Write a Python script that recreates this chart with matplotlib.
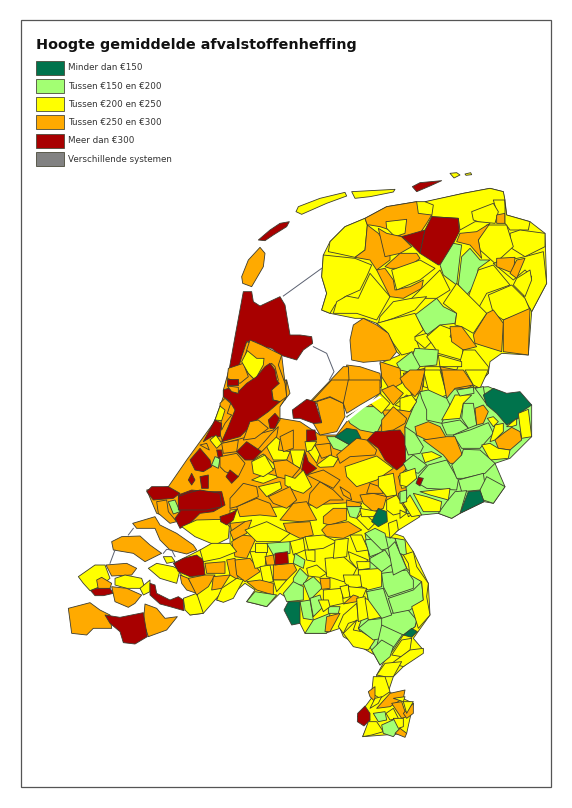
import matplotlib
matplotlib.use("Agg")
import matplotlib.pyplot as plt
from matplotlib.patches import Polygon, Rectangle

TITLE = "Hoogte gemiddelde afvalstoffenheffing"
legend_labels = ["Minder dan €150", "Tussen €150 en €200", "Tussen €200 en €250",
                 "Tussen €250 en €300", "Meer dan €300", "Verschillende systemen"]
colors = {"D": "#00734C", "L": "#A3FF73", "Y": "#FFFF00", "O": "#FFAA00", "R": "#A80000", "G": "#828282", "W": "#FFFFFF"}
legend_keys = ["D", "L", "Y", "O", "R", "G"]

# Municipal outlines, as (class, x, y, x, y, ...) in map sheets
base_mid = [("O", 50,330,115,320,170,240,250,130,290,50,290,0,470,0,480,40,445,85,430,145,450,115,510,125,570,165,620,165,650,125,750,50,760,0,960,0,960,400,900,370,800,410,700,440,500,470,300,440,160,440,140,420,80,400)]
base_south = [("Y", 420,150,510,130,510,30,1000,0,1080,50,1000,100,1030,110,1060,155,1105,250,1110,345,1060,415,1090,450,1030,500,1000,530,985,575,1060,610,1040,700,908,710,930,660,893,650,945,580,950,525,975,480,935,460,850,410,840,385,795,400,735,400,720,370,675,330,690,300,660,280,620,320,560,305,585,270,555,250,490,305,470,300,500,260,430,340,390,345,410,280,360,220,340,190),
              ("L",915,100,1005,115,1040,205,1085,245,1090,300,1065,380,1030,405,1000,450,960,495,935,450,895,385,925,300,920,275,895,210,930,185)]
base_north = [("Y",280,255,300,215,345,170,405,145,470,110,560,95,590,95,700,70,780,55,820,65,830,135,900,155,945,190,950,340,905,425,895,555,815,550,780,575,775,610,740,650,770,660,760,720,450,720,455,610,450,580,510,555,500,545,475,490,440,460,400,445,375,445,300,430,275,420,290,370,275,320)]
base_east = [("L",60,65,265,50,395,105,395,200,330,265,285,280,315,350,280,400,252,395,180,430,155,445,115,430,65,435,20,430,15,170)]
base_nh = [("O",250,330,268,265,320,185,425,225,440,350,420,380,420,420,400,450,250,490,225,420,250,350)]

north = [
("O",38,340,35,320,55,270,90,232,105,250,100,290,65,350),
("R",85,210,120,180,150,160,178,155,170,170,130,195,105,212),
("Y",198,125,205,110,270,85,345,67,350,78,290,100,215,133),
("Y",365,65,420,62,495,58,490,66,420,80,375,85),
("R",547,50,570,38,635,32,600,48,560,65),
("Y",660,10,680,8,690,15,672,24),("Y",705,12,722,8,725,14,708,16),
("Y",300,215,345,170,405,145,412,165,405,240,375,262,320,250,295,245),
("O",405,145,470,110,560,95,565,130,605,135,590,160,570,190,515,200,480,180,450,170,420,165,412,165),
("Y",468,155,530,148,525,190,495,200,470,175),
("O",412,165,445,190,480,240,480,270,440,300,420,270,375,262,405,240),
("O",445,175,470,190,515,200,545,230,510,250,465,260),
("O",465,290,510,250,560,250,570,265,530,295,480,295),
("Y",585,95,700,70,780,55,820,65,825,90,790,90,800,125,775,155,735,155,690,180,685,145,605,140,610,105),
("R",515,200,585,180,570,250,545,225),
("R",605,140,685,145,688,185,640,280,625,285,570,250,585,180),
("Y",725,125,790,100,805,125,795,160,745,155,730,150),
("O",800,135,825,130,825,160,800,160),
("Y",825,90,830,135,900,155,895,180,840,180,825,160),
("Y",840,190,870,180,945,190,945,230,885,260,845,235),
("Y",770,165,830,165,850,230,795,280,750,240,745,210),
("O",690,190,740,185,780,160,745,210,755,265,720,225,680,215),
("L",670,220,695,225,690,260,680,345,640,315,630,285),
("L",695,260,720,235,750,270,780,270,745,295,735,345,710,375,685,345),
("Y",885,260,940,245,950,340,905,425,880,380,905,320,885,300,850,330,790,280),
("O",800,265,855,262,850,310,800,290),("O",860,270,885,265,860,325,840,310),
("Y",790,285,840,345,770,370,745,415,715,380,745,300),
("Y",775,375,845,345,885,385,900,420,820,450,790,430),
("Y",860,325,900,300,905,330,885,380,850,345),
("O",790,420,820,460,815,545,735,520,730,495,770,430),
("O",820,450,900,415,895,555,820,545),
("Y",280,255,375,265,425,285,410,320,390,360,345,380,315,405,300,430,275,420,290,370,275,320),
("Y",420,310,480,380,440,450,410,440,380,430,310,430,320,395,350,378,385,385),
("O",440,300,465,295,490,330,495,360,540,350,580,330,575,355,520,385,480,380),
("Y",485,300,570,270,615,295,570,330,500,360),
("Y",540,390,630,300,660,360,620,385,560,385),
("Y",450,440,490,395,545,385,590,380,555,420,490,445,445,460),
("L",555,435,620,385,640,410,680,430,675,460,630,465,590,495),
("Y",640,400,680,340,770,430,730,490,695,470,675,465,680,430),
("Y",440,460,495,445,555,430,580,480,555,500,570,540,515,555,490,520,470,485),
("O",400,445,440,465,475,490,500,545,480,570,400,577,365,570,360,510,370,465),
("Y",555,500,590,490,605,515,585,535,555,510),
("Y",590,500,630,465,670,480,660,500,700,530,695,570,625,550,605,520),
("O",660,470,695,470,740,530,700,540,665,515),
("Y",700,540,735,540,775,590,775,610,730,650,680,600,690,575),
("L",555,535,625,540,620,585,570,590,545,565),
("L",500,580,545,545,570,590,555,610,510,600),
("Y",625,555,695,575,695,590,630,590),
("O",450,575,510,595,515,640,480,660,455,620),
("O",520,610,585,595,575,670,545,675),
("Y",585,590,630,590,650,680,600,655,580,650),
("O",630,590,680,600,730,645,670,680),
("O",350,585,390,590,450,610,455,650,400,690,350,705),
("O",240,695,340,590,355,590,360,690,345,715,300,700,270,705),
]

mid_detail = [
("O",420,30,470,0,465,60,440,65),
("O",560,65,600,52,640,70,645,110,620,155,570,165,550,130,575,128),
("O",540,70,605,0,655,0,660,30,640,70,600,50),
("O",655,0,750,0,750,40,690,75,650,100,640,70),
("R",487,90,530,58,555,65,575,128,550,130,510,115,490,115),
("L",650,110,700,80,750,80,765,110,740,160,690,150,660,130),
("L",590,170,615,170,660,195,640,215,610,205),
("D",615,170,650,145,680,150,693,175,660,195),
("O",620,225,680,175,710,180,740,210,735,225,660,230,630,250),
("R",712,180,735,155,810,150,830,180,838,240,800,270,765,240,745,205),
("L",830,130,860,190,880,230,840,245,825,175),
("Y",645,260,740,228,790,265,740,300,680,320,650,290),
("L",890,240,960,230,960,320,890,325,870,280),
("L",840,250,880,230,890,250,850,280),
("O",855,140,930,125,945,170,880,170),
("O",880,180,960,170,960,235,900,215),
("Y",880,225,930,225,900,250),
("O",755,120,790,80,830,115,825,130,790,150,755,155),
("Y",840,140,855,60,885,60,895,130,860,135),
("L",875,50,925,35,960,70,960,130,905,120,895,70),
("Y",795,75,830,45,855,60,850,95),
("Y",720,70,750,40,780,70,755,100),
("O",755,30,790,15,820,40,790,75),
("R",860,295,875,290,875,315,860,320),
("O",80,365,110,360,115,395,140,425,120,430,85,400),
("R",145,345,185,330,235,335,275,335,285,375,250,395,210,400,180,430,150,445,135,415,150,395),
("L",115,365,135,360,150,395,130,402),
("Y",155,440,200,420,280,418,298,440,295,475,255,495,195,470),
("Y",370,240,400,222,440,260,410,280,375,270),
("Y",365,300,410,280,450,290,400,310),
("Y",385,320,450,305,455,325,410,350),
("Y",410,200,430,165,450,180,445,210,480,215,470,240,430,240),
("O",450,170,490,150,490,205,460,215),
("Y",480,210,525,210,510,265,490,255),
("R",525,215,535,245,560,265,530,285,515,270),
("Y",535,215,555,195,570,220,560,250),
("O",555,195,600,190,605,225,575,235),
("Y",560,255,600,225,625,235,610,260,570,262),
("O",430,245,470,240,510,265,480,300,440,290),
("Y",465,285,495,295,520,270,545,320,520,340,490,330,465,315),
("Y",525,185,560,185,545,210,530,215),
("R",530,150,555,150,560,180,530,185),
("O",415,350,480,320,500,360,470,385,430,370),
("O",320,380,380,355,420,370,440,410,390,405,330,410),
("O",300,355,340,310,380,320,385,350,320,380,300,385),
("O",450,420,490,370,530,365,560,420,510,425),
("O",540,340,570,305,610,330,640,360,600,360,560,385,535,370),
("O",530,285,580,270,630,300,610,325,570,305),
("O",690,345,730,340,770,350,760,385,730,395,700,370),
("O",720,310,750,320,760,340,710,340),
("O",630,320,660,340,665,360,640,345),
("O",650,360,695,370,690,380,650,380),
("O",580,410,610,385,650,385,650,420,600,435,580,430),
("O",590,435,655,425,695,450,640,475,590,470,575,450),
("O",460,430,540,425,550,465,510,475,470,455),
("O",300,430,345,425,345,460,310,480),
("L",650,380,695,380,680,415,660,410),
("Y",680,415,700,395,735,430,715,450),
("Y",690,385,745,395,730,410,695,410),
("D",725,425,745,385,770,395,772,425,745,440),
("Y",745,290,790,280,800,345,770,350,745,320),
("Y",805,290,830,265,860,290,845,320,815,325),
("L",805,340,830,330,835,365,810,370),
("Y",770,360,800,345,830,395,790,405,770,390),
("Y",850,335,900,330,960,345,930,395,880,370),
("Y",825,370,860,350,870,390,835,410),
("Y",775,430,800,420,805,450,780,475),
("L",930,360,960,345,960,410,930,395),
("R",270,410,300,400,320,390,310,420,290,435,272,425),
]

east = [
("Y",70,0,120,0,140,75,115,85,85,60),("O",125,0,190,0,220,45,165,55,140,85),
("Y",195,0,265,0,240,55,220,45),("O",0,25,30,0,75,0,60,60,45,80,15,50),
("Y",0,85,35,75,50,95,30,125,0,120),
("L",60,65,85,60,140,85,150,105,125,160,80,150,80,120,65,85),
("Y",150,105,165,75,215,75,190,100,180,145,125,150),
("L",170,60,220,52,222,70,180,78),
("L",225,55,250,50,258,100,240,75),
("D",250,75,280,55,320,70,360,65,395,105,365,125,355,145,320,165,290,130,260,105),
("L",190,100,220,100,230,165,205,175,185,145),
("O",225,115,250,105,265,125,250,160,230,165),
("L",125,160,180,150,205,175,160,195,140,195),
("O",45,170,85,155,120,170,140,205,80,210,50,195),
("L",160,195,210,180,265,158,280,190,240,235,185,235),
("Y",262,145,280,140,295,155,280,170),
("Y",270,215,285,165,310,160,310,185,285,210),
("Y",320,170,350,145,350,165,335,170),
("Y",355,130,385,118,395,200,365,205,360,170),
("O",285,210,310,190,335,172,360,185,365,210,330,240,295,235),
("Y",245,225,270,220,295,235,330,240,325,265,270,270),
("L",15,170,45,190,70,230,60,250,25,255,15,225),
("O",70,210,140,200,165,200,185,250,180,280,150,280,130,255),
("Y",65,250,95,245,125,260,75,278),
("L",10,280,40,255,80,285,55,310,20,300),
("L",55,320,85,285,140,270,175,330,170,360,80,355,55,340),
("L",155,285,185,255,190,238,240,240,285,280,255,310,190,325,170,325),
("L",175,330,250,310,255,345,240,360,185,365),
("L",240,360,260,320,315,350,280,400,250,390),
("D",180,430,205,365,240,362,252,395),
("L",115,430,140,395,165,365,200,362,180,430,155,445),
("Y",60,365,150,355,145,390,90,375),
("Y",40,370,80,380,125,395,120,425,70,425),
("Y",0,310,45,295,50,325,20,350,0,345),
("R",48,340,55,322,70,325,60,348),
("Y",10,400,30,375,65,435,35,440),
("Y",0,420,20,430,0,445),
("L",0,365,20,360,20,395,0,400),
]

nh_detail = [
("R",310,35,335,35,340,65,360,78,420,50,435,75,450,165,480,165,515,170,518,190,490,210,470,240,420,225,395,205,365,200,345,185,320,185,305,230,295,265,268,265,285,170),
("O",330,180,365,195,425,225,415,255,435,310,440,350,420,365,400,360,395,330,415,300,405,260,395,250,345,300,325,280,310,250,320,210),
("O",265,265,310,250,325,290,300,310,262,295),
("Y",322,212,350,235,372,235,370,255,345,300,325,280,305,245),
("R",390,250,405,270,410,300,418,310,395,330,398,360,420,365,385,395,350,420,330,440,300,470,245,485,265,440,285,390,270,365,250,350,250,330,265,325,290,340,320,310,350,290,375,260),
("R",262,298,295,298,295,315,262,315),
("O",262,318,295,322,295,340,275,335),
("O",240,370,255,355,272,370,262,400,275,405,255,430,245,450),
("Y",225,420,240,378,255,390,245,422),
("R",385,420,405,400,418,415,405,445,390,445),
("R",190,485,225,420,245,430,240,470,215,470),
("Y",210,480,228,465,245,490,230,505),
("O",180,495,200,490,208,510),
("O",330,425,355,420,385,445,345,475,310,480),
("O",335,530,395,460,415,440,410,470,365,515),
("O",245,490,295,480,290,515,250,520),
("R",150,540,180,505,210,540,215,560,190,575,165,570),
("L",215,555,225,530,240,535,235,565),
("R",230,510,245,510,248,530,235,535),
("R",290,515,320,485,365,515,340,540,315,540),
("O",240,530,290,520,315,550,295,590,255,575,240,560),
("R",258,590,270,570,295,590,275,610),
("R",180,590,205,585,205,625,185,625),
("R",145,600,155,580,165,600,155,615),
("R",20,635,35,620,85,620,120,640,100,655,40,660),
("R",115,650,140,640,180,630,240,640,245,680,200,690,115,690),
("Y",335,545,375,525,400,570,370,590,340,580),
]

south = [
("O",218,70,285,50,300,75,350,100,400,135,410,150,380,162,330,150,300,120,285,85,230,85),
("O",155,125,185,110,240,108,270,135,305,160,255,185,220,160,160,150),
("Y",55,230,105,195,135,195,150,235,120,260,90,272,70,250),
("O",138,195,200,190,230,205,215,225,155,228),
("O",110,240,125,232,155,250,150,265,115,268),
("R",92,272,110,265,150,265,160,280,130,287,105,287),
("Y",165,235,195,225,245,235,255,265,200,265,165,255),
("O",155,260,200,265,245,285,225,310,205,322,165,305),
("Y",240,265,270,240,270,275,250,285),
("Y",265,205,290,190,340,200,360,210,350,250,300,235),
("Y",310,170,335,170,345,185,320,190),
("R",342,190,370,175,410,165,430,180,435,225,390,230,355,215),
("R",270,250,285,255,290,280,330,300,355,290,370,300,372,332,330,320,300,312,270,285),
("Y",370,295,410,280,430,340,390,345,375,330),
("O",25,325,90,308,120,330,150,345,155,385,100,385,80,405,35,400),
("O",255,312,290,325,315,355,352,350,320,390,265,410,250,365),
("R",135,345,180,352,250,338,262,410,225,432,190,428,180,395,150,370),
("O",360,225,385,235,410,280,380,270,365,250),
("O",385,235,435,225,465,225,445,260,410,285),
("O",435,190,495,185,495,220,440,220),
("O",460,230,510,225,485,265,455,270),
("O",500,180,525,175,535,240,510,225),
("O",525,180,570,175,600,215,555,245,530,225),
("O",545,105,590,110,560,175,525,170,515,125),
("O",510,95,555,65,575,60,560,100,520,120),
("Y",420,150,455,130,510,130,530,155,480,175,430,185),
("Y",555,90,620,65,690,100,660,125,590,125),
("Y",570,155,620,155,615,200,585,205),
("Y",600,200,630,195,640,245,610,250),
("Y",585,130,620,130,620,155,585,155),
("L",620,130,690,125,690,160,640,165),
("O",615,170,640,165,645,195,620,195),
("O",640,195,700,190,710,210,680,240,640,240),
("R",645,160,683,155,685,190,645,195),
("Y",690,125,730,115,735,150,700,165),
("O",560,245,600,240,640,250,640,285,590,270),
("Y",640,240,680,240,650,275),
("Y",470,300,485,265,530,235,550,240,520,295,490,307),
("L",560,305,585,275,650,285,620,320,590,312),
("L",705,160,735,180,730,205,700,190),
("L",700,235,720,205,745,230,730,255,700,255),
("L",670,280,700,245,730,260,730,300,680,305),
("L",730,250,760,230,790,260,750,300),
("L",720,305,750,300,760,360,730,355),
("L",735,400,760,360,810,340,800,400),
("L",750,295,780,285,790,320,760,350),
("D",672,330,685,305,720,305,720,370,695,375),
("L",805,320,840,320,835,340,805,340),
("O",800,350,840,340,810,395,795,395),
("O",780,235,810,235,810,265,785,268),
("Y",735,150,765,150,765,185,740,180),
("Y",735,110,790,105,830,125,790,145,745,150),
("Y",795,175,850,170,890,205,880,225,850,245,820,235,800,230),
("Y",740,205,770,195,800,220,780,232,745,228),
("Y",825,120,865,115,860,170,820,175),
("Y",870,105,905,105,925,150,890,155),
("Y",865,155,925,180,890,205,870,180),
("Y",890,185,930,185,930,205,895,210),
("Y",895,210,965,205,965,260,925,270,905,260,895,235),
("Y",850,225,900,225,905,260,875,265,855,250),
("Y",790,270,845,265,850,310,805,320,790,300),
("Y",840,260,865,255,870,290,850,295),
("Y",865,260,920,265,905,300,870,290),
("O",850,312,880,285,895,290,890,305),
("Y",775,300,805,300,810,320,790,335),
("Y",835,380,850,345,890,310,895,360,865,370,850,400),
("Y",890,295,915,290,935,350,895,365),
("Y",915,295,940,305,970,350,925,360),
("Y",850,400,890,360,880,390,905,395,945,420,925,450,880,440),
("L",895,385,925,360,970,355,965,415,940,420),
("L",965,375,1030,375,1030,400,995,450,950,440),
("L",965,350,1040,325,1070,360,1065,380,1030,405,965,375),
("L",920,275,970,265,995,345,965,355,925,300),
("L",965,220,1040,210,1060,240,1060,265,985,290,970,260),
("L",985,295,1060,270,1085,245,1090,300,1050,330,1000,340),
("L",915,120,950,115,970,155,930,170),
("L",930,175,975,150,1000,190,965,215,930,185),
("L",985,145,1005,125,1040,205,1000,225),
("L",1005,115,1035,120,1040,170,1020,160),
("L",915,100,945,85,975,100,985,145,965,150),
("Y",1030,165,1060,155,1070,200,1105,250,1100,290,1110,345,1075,385,1055,320,1090,300,1085,245,1050,225,1045,190),
("D",1030,405,1055,385,1072,395,1055,412),
("Y",995,465,1025,420,1055,415,1050,450,1025,470),
("Y",995,490,1050,450,1090,445,1090,460,1030,500),
("Y",950,525,975,490,1025,485,1000,530,975,530),
("Y",940,530,975,530,990,575,960,595,935,580),
("L",935,450,965,420,1000,440,990,470,960,495),
("O",925,575,945,560,945,605,930,590),
("O",950,625,990,580,1035,570,1030,595,990,620),
("Y",945,595,965,590,955,610,930,625),
("Y",1000,595,1035,590,1030,605),
("O",995,610,1025,605,1040,650,1025,655),
("O",1030,640,1060,610,1060,640,1040,655),
("Y",1030,605,1060,605,1040,640),
("R",893,640,915,618,930,640,930,660,912,678,892,665),
("L",940,640,975,635,980,660,955,665),
("Y",978,640,1000,625,1015,655,990,660),
("Y",908,710,925,665,950,665,970,695,935,705),
("L",965,675,1010,655,1020,685,1000,710,970,700),
("O",1005,700,1020,685,1040,700,1035,712),
("Y",1000,655,1030,655,1030,680,1015,685),
]

dike_north = [[160,378,275,295], [250,530,290,550,312,605,298,630]]
dike_south = [[150,190,165,150], [205,105,220,85], [310,160,320,148,335,150,345,170]]
water_mid = [("W",645,118,695,78,748,48,755,52,700,85,652,124)]

fig = plt.figure(figsize=(5.72, 8.08), dpi=100)
ax = fig.add_axes([0, 0, 1, 1])
ax.set_xlim(0, 572)
ax.set_ylim(808, 0)
ax.axis("off")

def sheet(items, ox, oy, edge=True):
    for it in items:
        pts = [(ox + it[i] / 3, oy + it[i + 1] / 3) for i in range(1, len(it), 2)]
        ax.add_patch(Polygon(pts, closed=True, facecolor=colors[it[0]],
                             edgecolor="#3c3c30" if edge else "none", linewidth=0.6, joinstyle="round"))

def lines(items, ox, oy):
    for it in items:
        ax.plot([ox + v / 3 for v in it[0::2]], [oy + v / 3 for v in it[1::2]], color="#5a6070", lw=0.7)

N, M, S, E, H = (230, 170), (130, 380), (60, 500), (400, 370), (140, 280)
sheet(base_mid, *M)
sheet(base_north, *N)
sheet(base_south, *S)
sheet(north, *N)
sheet(mid_detail, *M)
sheet(water_mid, *M, edge=False)
sheet(base_east, *E)
sheet(east, *E)
sheet(base_nh, *H)
sheet(nh_detail, *H)
sheet(south, *S)
lines(dike_north, *N)
lines(dike_south, *S)

ax.add_patch(Rectangle((21, 20), 530, 767, fill=False, edgecolor="#555555", linewidth=0.9))
ax.text(36, 45.5, TITLE, fontsize=10.4, fontweight="bold", family="DejaVu Sans", va="center", color="#111111")
for i, (key, label) in enumerate(zip(legend_keys, legend_labels)):
    y = 60.5 + i * 18.25
    ax.add_patch(Rectangle((36, y), 28, 14, facecolor=colors[key], edgecolor="#4a4a3a", linewidth=0.6))
    ax.text(68, y + 7.3, label, fontsize=6.3, family="DejaVu Sans", va="center", color="#333333")

fig.savefig("out.png", dpi=100)
